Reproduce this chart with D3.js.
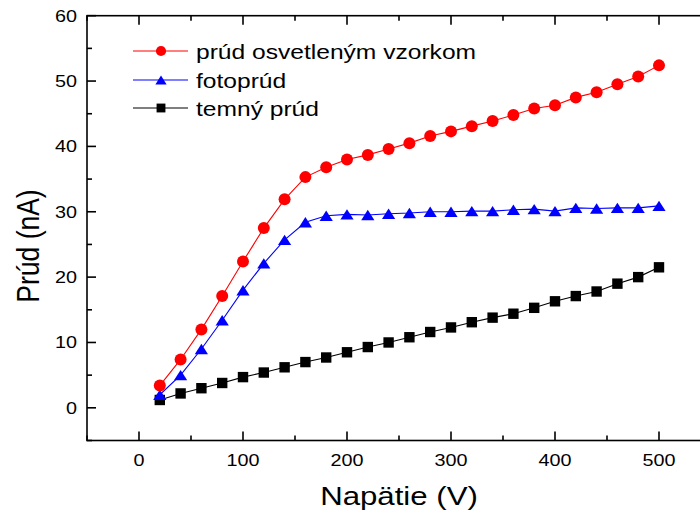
<!DOCTYPE html>
<html>
<head>
<meta charset="utf-8">
<script src="https://cdn.jsdelivr.net/npm/d3@7"></script>
<style>
  html, body { margin: 0; padding: 0; background: #fff; }
  svg { display: block; overflow: hidden; }
</style>
</head>
<body>
<div id="chart"></div>
<script>
const voltage = [20, 40, 60, 80, 100, 120, 140, 160, 180, 200, 220, 240, 260,
                 280, 300, 320, 340, 360, 380, 400, 420, 440, 460, 480, 500];
const illuminated = [3.4, 7.4, 12.0, 17.1, 22.4, 27.5, 31.9, 35.3, 36.8, 38.0, 38.7, 39.6, 40.5,
                     41.6, 42.3, 43.1, 43.9, 44.8, 45.8, 46.3, 47.5, 48.3, 49.5, 50.7, 52.4];
const photo = [2.0, 5.0, 9.0, 13.4, 18.0, 22.1, 25.7, 28.4, 29.4, 29.6, 29.5, 29.7, 29.8,
               30.0, 30.0, 30.1, 30.1, 30.3, 30.4, 30.1, 30.6, 30.5, 30.6, 30.6, 30.9];
const dark = [1.2, 2.2, 3.0, 3.8, 4.7, 5.4, 6.2, 7.0, 7.7, 8.5, 9.3, 10.0, 10.8,
              11.6, 12.3, 13.1, 13.8, 14.4, 15.3, 16.3, 17.1, 17.8, 19.0, 20.0, 21.5];
const seriesNames = ["prúd osvetleným vzorkom", "fotoprúd", "temný prúd"];
const xTicks = [0, 100, 200, 300, 400, 500];
const yTicks = [0, 10, 20, 30, 40, 50, 60];

const width = 700, height = 513;
const stretch = 1.2; // the original text is stretched horizontally

const svg = d3.select("#chart").append("svg")
    .attr("width", width).attr("height", height);

const x = d3.scaleLinear().domain([-50, 550]).range([87, 711]);
const y = d3.scaleLinear().domain([-5, 60]).range([440.5, 15.7]);

const font = "'Liberation Sans', Arial, sans-serif";

// minor ticks
const xMinor = d3.range(-50, 551, 50).filter(v => v % 100 !== 0);
const yMinor = d3.range(-5, 60, 10);

function frameTicks(sel, ticks, len, where) {
    ticks.forEach(v => {
        if (where === "bottom") {
            sel.append("line").attr("x1", x(v)).attr("x2", x(v))
                .attr("y1", y.range()[0]).attr("y2", y.range()[0] - len);
        } else if (where === "top") {
            sel.append("line").attr("x1", x(v)).attr("x2", x(v))
                .attr("y1", y.range()[1]).attr("y2", y.range()[1] + len);
        } else {
            sel.append("line").attr("x1", x.range()[0]).attr("x2", x.range()[0] + len)
                .attr("y1", y(v)).attr("y2", y(v));
        }
    });
}

const frame = svg.append("g").attr("stroke", "#000").attr("stroke-width", 1.6).attr("fill", "none");
frame.append("rect")
    .attr("x", x.range()[0]).attr("y", y.range()[1])
    .attr("width", x.range()[1] - x.range()[0])
    .attr("height", y.range()[0] - y.range()[1]);
frameTicks(frame, xTicks, 9, "bottom");
frameTicks(frame, xMinor, 5, "bottom");
frameTicks(frame, xTicks, 9, "top");
frameTicks(frame, xMinor, 5, "top");
frameTicks(frame, yTicks, 9, "left");
frameTicks(frame, yMinor, 5, "left");

// tick labels
svg.append("g").selectAll("text").data(xTicks).join("text")
    .attr("transform", d => `translate(${x(d)},466) scale(${stretch},1)`)
    .attr("text-anchor", "middle")
    .attr("font-family", font).attr("font-size", 16.5)
    .text(d => d);

svg.append("g").selectAll("text").data(yTicks).join("text")
    .attr("transform", d => `translate(77,${y(d) + 6}) scale(${stretch},1)`)
    .attr("text-anchor", "end")
    .attr("font-family", font).attr("font-size", 16.5)
    .text(d => d);

// axis titles
svg.append("text")
    .attr("transform", `translate(399,505) scale(${stretch},1)`)
    .attr("text-anchor", "middle")
    .attr("font-family", font).attr("font-size", 26)
    .text("Napätie (V)");

svg.append("text")
    .attr("transform", `translate(39,246) scale(${stretch},1) rotate(-90)`)
    .attr("text-anchor", "middle")
    .attr("font-family", font).attr("font-size", 26.5)
    .text("Prúd (nA)");

// series
const series = [
    { name: seriesNames[2], values: dark, color: "#000000", shape: "square" },
    { name: seriesNames[1], values: photo, color: "#0000ff", shape: "triangle" },
    { name: seriesNames[0], values: illuminated, color: "#ff0000", shape: "circle" }
];

function marker(sel, shape, color, s) {
    if (shape === "circle") {
        sel.append("circle").attr("r", 6 * s).attr("fill", color);
    } else if (shape === "triangle") {
        const w = 6.6 * s, h = 5.2 * s;
        sel.append("path").attr("d", `M0,${-h}L${w},${h}L${-w},${h}Z`).attr("fill", color);
    } else {
        const a = 5.2 * s;
        sel.append("rect").attr("x", -a).attr("y", -a).attr("width", 2 * a).attr("height", 2 * a)
            .attr("fill", color);
    }
}

const line = d3.line().x((d, i) => x(voltage[i])).y(d => y(d));

series.forEach(s => {
    const g = svg.append("g");
    g.append("path").datum(s.values)
        .attr("d", line)
        .attr("fill", "none").attr("stroke", s.color).attr("stroke-width", 1.1);
    g.selectAll("g.pt").data(s.values).join("g")
        .attr("class", "pt")
        .attr("transform", (d, i) => `translate(${x(voltage[i])},${y(d)})`)
        .each(function () { marker(d3.select(this), s.shape, s.color, 1); });
});

// legend
const legendRows = [
    { name: seriesNames[0], color: "#ff0000", shape: "circle", ly: 51 },
    { name: seriesNames[1], color: "#0000ff", shape: "triangle", ly: 80 },
    { name: seriesNames[2], color: "#000000", shape: "square", ly: 108 }
];
const legend = svg.append("g");
legendRows.forEach(r => {
    legend.append("line").attr("x1", 133).attr("x2", 188)
        .attr("y1", r.ly).attr("y2", r.ly)
        .attr("stroke", r.color).attr("stroke-width", 1.1);
    const m = legend.append("g").attr("transform", `translate(161,${r.ly})`);
    marker(m, r.shape, r.color, 0.85);
    legend.append("text")
        .attr("transform", `translate(196,${r.ly + 7.5}) scale(${stretch},1)`)
        .attr("font-family", font).attr("font-size", 20.5)
        .text(r.name);
});
</script>
</body>
</html>
